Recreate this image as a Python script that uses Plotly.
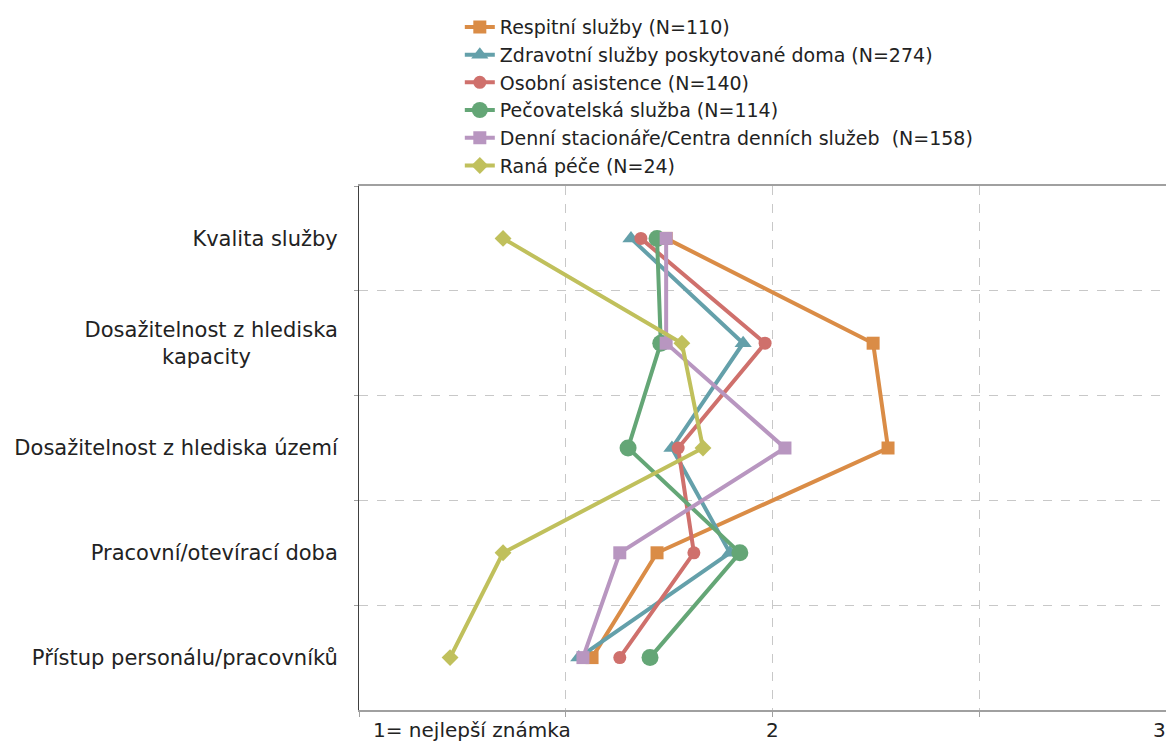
import plotly.graph_objects as go

NB = "\u00a0"
categories = [
    "Kvalita služby",
    "Dosažitelnost z hlediska<br>kapacity" + NB * 13,
    "Dosažitelnost z hlediska území",
    "Pracovní/otevírací doba",
    "Přístup personálu/pracovníků",
]

series_names = [
    "Respitní služby (N=110)",
    "Zdravotní služby poskytované doma (N=274)",
    "Osobní asistence (N=140)",
    "Pečovatelská služba (N=114)",
    "Denní stacionáře/Centra denních služeb  (N=158)",
    "Raná péče (N=24)",
]

respitni = [1.742, 2.242, 2.278, 1.720, 1.563]
zdravotni = [1.657, 1.928, 1.756, 1.896, 1.531]
osobni = [1.681, 1.981, 1.771, 1.809, 1.630]
pecovatelska = [1.720, 1.729, 1.650, 1.920, 1.703]
denni = [1.742, 1.742, 2.029, 1.630, 1.541]
rana = [1.348, 1.780, 1.831, 1.348, 1.220]

x_tick_vals = [1, 2, 3]
x_tick_labels = ["1= nejlepší známka", "2", "3"]
x_grid_vals = [1, 1.5, 2, 2.5]

colors = ["#DA8C46", "#64A0AA", "#CF706C", "#64A676", "#B896C0", "#C0C05C"]
symbols = ["square", "triangle-up", "circle", "circle", "square", "diamond"]
sizes = [13, 15, 13, 17, 13, 13]

all_values = [respitni, zdravotni, osobni, pecovatelska, denni, rana]

fig = go.Figure()
for name, vals, c, s, sz in zip(series_names, all_values, colors, symbols, sizes):
    fig.add_trace(go.Scatter(
        x=vals, y=categories, name=name, mode="lines+markers",
        line=dict(color=c, width=4),
        marker=dict(color=c, symbol=s, size=sz),
    ))

FONT = "DejaVu Sans"
XMAX = 2.964
fig.update_layout(
    width=1166, height=734,
    margin=dict(l=351, r=2, t=177, b=32),
    paper_bgcolor="white", plot_bgcolor="white",
    font=dict(family=FONT, size=21, color="#222222"),
    showlegend=True,
    legend=dict(
        x=0.124, y=1.337, xanchor="left", yanchor="top",
        font=dict(family=FONT, size=19, color="#222222"),
        bgcolor="rgba(0,0,0,0)", itemwidth=30, tracegroupgap=0,
    ),
)

fig.update_xaxes(
    range=[1, XMAX],
    tickvals=x_grid_vals, showticklabels=False,
    ticks="outside", ticklen=5, tickcolor="#A0A0A0",
    showgrid=True, gridcolor="#C8C8C8", griddash="dash", gridwidth=1,
    showline=True, linecolor="#A0A0A0", linewidth=1.5, mirror=True,
    zeroline=False,
)
fig.update_yaxes(
    type="category", range=[len(categories) - 0.5, -0.5], autorange=False,
    tickson="boundaries", ticks="outside", ticklen=4, tickcolor="#A0A0A0",
    showgrid=True, gridcolor="#C8C8C8", griddash="dash", gridwidth=1,
    showline=True, linecolor="#404040", linewidth=1,
    tickfont=dict(family=FONT, size=21, color="#222222"),
    ticklabelstandoff=16,
)

anchors = ["left", "center", "right"]
shifts = [12, 0, -4]
for v, t, a, sh in zip(x_tick_vals, x_tick_labels, anchors, shifts):
    fig.add_annotation(
        x=min(v, XMAX), y=0, xref="x", yref="paper", text=t, showarrow=False,
        xanchor=a, yanchor="top", yshift=-6, xshift=sh,
        font=dict(family=FONT, size=20, color="#222222"),
    )

fig.write_html("out.html")
